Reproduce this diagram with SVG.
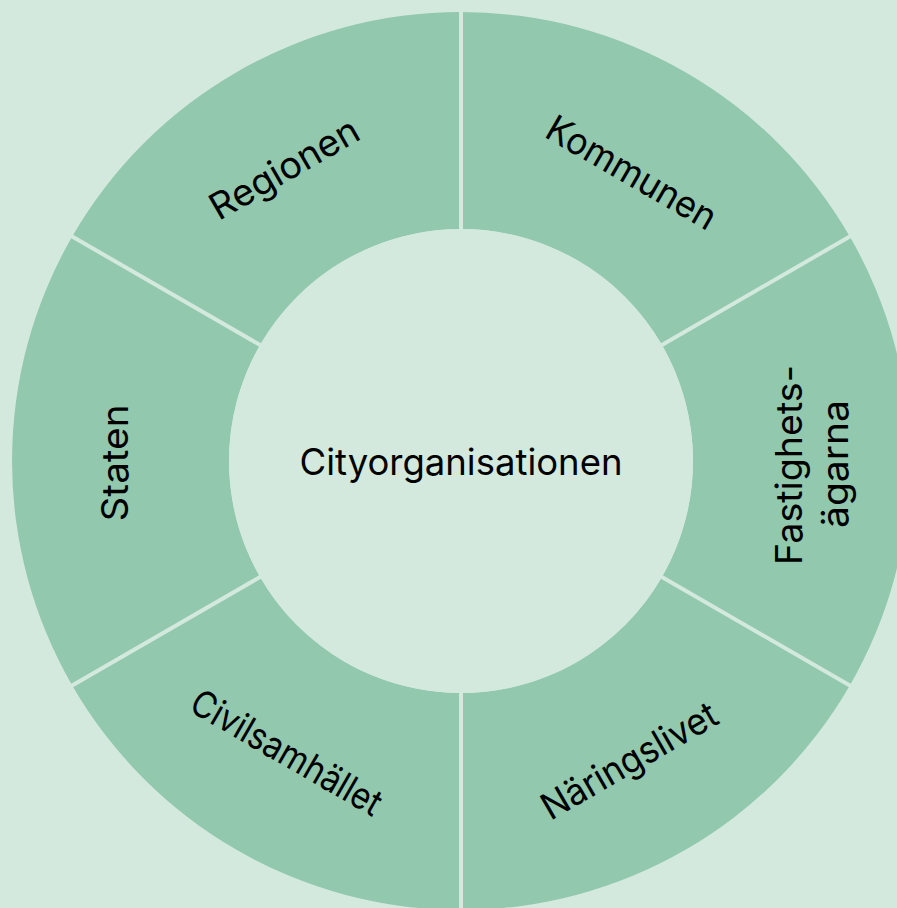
<svg xmlns="http://www.w3.org/2000/svg" width="897" height="908" viewBox="0 0 897 908">
  <style>
    .seg { fill: #92c8ad; }
    .div { stroke: #d3e9dd; stroke-width: 4; }
    .lbl { font-family: Inter, "Liberation Sans", sans-serif; font-size: 37px; fill: #000; text-anchor: middle; dominant-baseline: central; }
  </style>
  <rect width="897" height="908" fill="#d3e9dd"/>
  <g id="kommunen">
    <path class="seg" d="M461,12 A449,449 0 0 1 849.8,236.5 L661.9,345 A232,232 0 0 0 461,229 Z"/>
    <text class="lbl" transform="translate(632,172) rotate(30)" textLength="190" lengthAdjust="spacingAndGlyphs">Kommunen</text>
  </g>
  <g id="fastighetsagarna">
    <path class="seg" d="M849.8,236.5 A449,449 0 0 1 849.8,685.5 L661.9,577 A232,232 0 0 0 661.9,345 Z"/>
    <text class="lbl" transform="translate(788,465) rotate(-90)" textLength="200" lengthAdjust="spacingAndGlyphs">Fastighets-</text>
    <text class="lbl" transform="translate(834,464) rotate(-90)" textLength="128" lengthAdjust="spacingAndGlyphs">ägarna</text>
  </g>
  <g id="naringslivet">
    <path class="seg" d="M849.8,685.5 A449,449 0 0 1 461,910 L461,693 A232,232 0 0 0 661.9,577 Z"/>
    <text class="lbl" transform="translate(629,760) rotate(-30)" textLength="197" lengthAdjust="spacingAndGlyphs">Näringslivet</text>
  </g>
  <g id="civilsamhallet">
    <path class="seg" d="M461,910 A449,449 0 0 1 72.2,685.5 L260.1,577 A232,232 0 0 0 461,693 Z"/>
    <text class="lbl" transform="translate(287,752) rotate(30)" textLength="214" lengthAdjust="spacingAndGlyphs">Civilsamhället</text>
  </g>
  <g id="staten">
    <path class="seg" d="M72.2,685.5 A449,449 0 0 1 72.2,236.5 L260.1,345 A232,232 0 0 0 260.1,577 Z"/>
    <text class="lbl" transform="translate(114,463) rotate(-90)" textLength="117" lengthAdjust="spacingAndGlyphs">Staten</text>
  </g>
  <g id="regionen">
    <path class="seg" d="M72.2,236.5 A449,449 0 0 1 461,12 L461,229 A232,232 0 0 0 260.1,345 Z"/>
    <text class="lbl" transform="translate(284,168) rotate(-30)" textLength="166" lengthAdjust="spacingAndGlyphs">Regionen</text>
  </g>
  <g id="dividers">
    <line class="div" x1="461" y1="8" x2="461" y2="232"/>
    <line class="div" x1="853.3" y1="234.5" x2="659.3" y2="346.5"/>
    <line class="div" x1="853.3" y1="687.5" x2="659.3" y2="575.5"/>
    <line class="div" x1="461" y1="914" x2="461" y2="690"/>
    <line class="div" x1="68.7" y1="687.5" x2="262.7" y2="575.5"/>
    <line class="div" x1="68.7" y1="234.5" x2="262.7" y2="346.5"/>
  </g>
  <g id="cityorganisationen">
    <circle cx="461" cy="461" r="232" fill="#d3e9dd"/>
    <text class="lbl" x="461" y="461" font-size="38" textLength="323" lengthAdjust="spacingAndGlyphs">Cityorganisationen</text>
  </g>
</svg>
